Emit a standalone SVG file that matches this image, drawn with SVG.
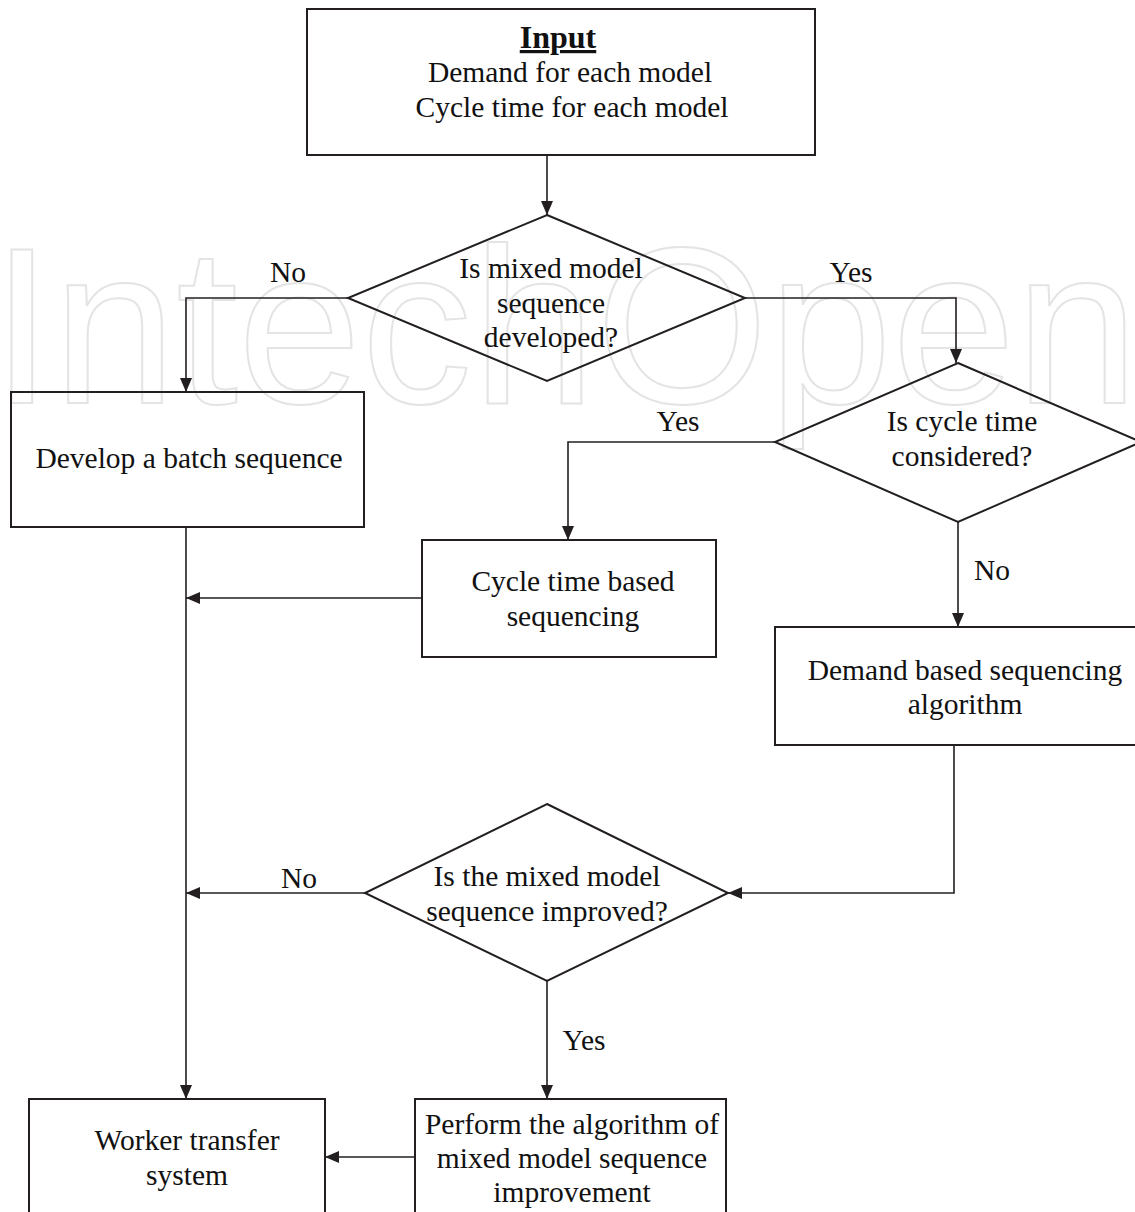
<svg xmlns="http://www.w3.org/2000/svg" width="1135" height="1212" viewBox="0 0 1135 1212">
  <defs>
    <marker id="arrow" markerUnits="userSpaceOnUse" markerWidth="14" markerHeight="14" viewBox="0 0 14 12" refX="14" refY="6" orient="auto">
      <path d="M0,0 L14,6 L0,12 Z" fill="#231f20"/>
    </marker>
    <style>
      .box { fill: none; stroke: #231f20; stroke-width: 2; }
      .conn { fill: none; stroke: #231f20; stroke-width: 1.6; marker-end: url(#arrow); }
      text { font-family: "Liberation Serif", "Times New Roman", serif; font-size: 29.5px; fill: #111; text-anchor: middle; }
      .wm { font-family: "Liberation Sans", Arial, sans-serif; font-size: 222px; fill: none; stroke: #e4e4e4; stroke-width: 2; text-anchor: start; }
    </style>
  </defs>
  <rect width="1135" height="1212" fill="#ffffff"/>

  <text class="wm" x="-9" y="403">IntechOpen</text>

  <g id="connectors">
    <path class="conn" d="M547,155 V215"/>
    <path class="conn" d="M348,298 H186 V392"/>
    <path class="conn" d="M745,298 H956 V363"/>
    <path class="conn" d="M775,442 H568 V540"/>
    <path class="conn" d="M958,522 V627"/>
    <path class="conn" d="M422,598 H186"/>
    <path class="conn" d="M954,745 V893 H728"/>
    <path class="conn" d="M365,893 H186"/>
    <path class="conn" d="M186,527 V1099"/>
    <path class="conn" d="M547,981 V1099"/>
    <path class="conn" d="M415,1157 H325"/>
    <text x="288" y="282">No</text>
    <text x="851" y="282">Yes</text>
    <text x="678" y="431">Yes</text>
    <text x="992" y="580">No</text>
    <text x="299" y="888">No</text>
    <text x="584" y="1050">Yes</text>
  </g>

  <g id="input">
    <rect class="box" x="307" y="9" width="508" height="146"/>
    <text x="558" y="48" font-weight="bold" text-decoration="underline" style="font-size:32px">Input</text>
    <text x="570" y="82">Demand for each model</text>
    <text x="572" y="117">Cycle time for each model</text>
  </g>

  <g id="decision-mixed">
    <polygon class="box" points="547,215 745,298 547,381 348,298"/>
    <text x="551" y="278">Is mixed model</text>
    <text x="551" y="313">sequence</text>
    <text x="551" y="347">developed?</text>
  </g>

  <g id="batch">
    <rect class="box" x="11" y="392" width="353" height="135"/>
    <text x="189" y="468">Develop a batch sequence</text>
  </g>

  <g id="decision-cycle">
    <polygon class="box" points="958,363 1141,442 958,522 775,442"/>
    <text x="962" y="431">Is cycle time</text>
    <text x="962" y="466">considered?</text>
  </g>

  <g id="cycle-based">
    <rect class="box" x="422" y="540" width="294" height="117"/>
    <text x="573" y="591">Cycle time based</text>
    <text x="573" y="626">sequencing</text>
  </g>

  <g id="demand-based">
    <rect class="box" x="775" y="627" width="380" height="118"/>
    <text x="965" y="680">Demand based sequencing</text>
    <text x="965" y="714">algorithm</text>
  </g>

  <g id="decision-improved">
    <polygon class="box" points="547,804 728,893 547,981 365,893"/>
    <text x="547" y="886">Is the mixed model</text>
    <text x="547" y="921">sequence improved?</text>
  </g>

  <g id="worker">
    <rect class="box" x="29" y="1099" width="296" height="130"/>
    <text x="187" y="1150">Worker transfer</text>
    <text x="187" y="1185">system</text>
  </g>

  <g id="perform">
    <rect class="box" x="415" y="1099" width="311" height="130"/>
    <text x="572" y="1134">Perform the algorithm of</text>
    <text x="572" y="1168">mixed model sequence</text>
    <text x="572" y="1202">improvement</text>
  </g>
</svg>
